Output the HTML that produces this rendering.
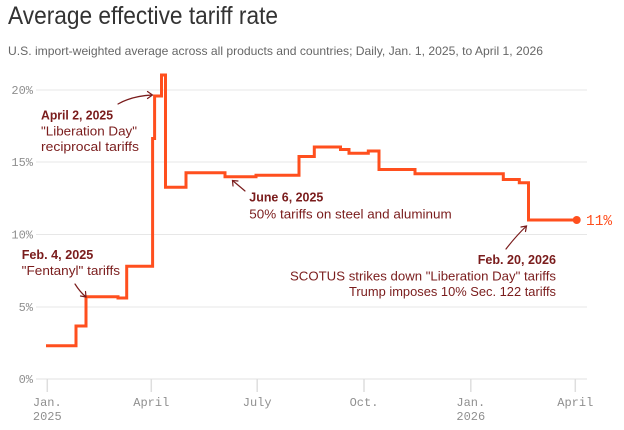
<!DOCTYPE html>
<html><head><meta charset="utf-8"><style>
html,body{margin:0;padding:0;background:#fff;}
svg{display:block;}
.ann{font-family:"Liberation Sans",sans-serif;font-size:13px;fill:#7a1c1c;}
.b{font-weight:bold;}
.tk{font-family:"Liberation Mono",monospace;font-size:12px;fill:#8f8f8f;}
</style></head><body>
<svg width="624" height="430" viewBox="0 0 624 430" xmlns="http://www.w3.org/2000/svg">
<text x="8" y="24" font-family="Liberation Sans, sans-serif" font-size="25" fill="#333" textLength="270" lengthAdjust="spacingAndGlyphs">Average effective tariff rate</text>
<text x="8" y="55" font-family="Liberation Sans, sans-serif" font-size="12" fill="#666" textLength="535" lengthAdjust="spacingAndGlyphs">U.S. import-weighted average across all products and countries; Daily, Jan. 1, 2025, to April 1, 2026</text>

<g stroke="#e7e7e7" stroke-width="1">
<line x1="36" y1="90" x2="587" y2="90"/>
<line x1="36" y1="162" x2="587" y2="162"/>
<line x1="36" y1="234.5" x2="587" y2="234.5"/>
<line x1="36" y1="307" x2="587" y2="307"/>
<line x1="36" y1="379" x2="587" y2="379" stroke="#e0e0e0"/>
</g>
<g class="tk" text-anchor="end">
<text x="33" y="94">20%</text>
<text x="33" y="166">15%</text>
<text x="33" y="238.5">10%</text>
<text x="33" y="311">5%</text>
<text x="33" y="383">0%</text>
</g>
<g stroke="#dedede" stroke-width="1.5">
<line x1="47.3" y1="379" x2="47.3" y2="392"/>
<line x1="151.3" y1="379" x2="151.3" y2="392"/>
<line x1="257.2" y1="379" x2="257.2" y2="392"/>
<line x1="364" y1="379" x2="364" y2="392"/>
<line x1="470.8" y1="379" x2="470.8" y2="392"/>
<line x1="575.3" y1="379" x2="575.3" y2="392"/>
</g>
<g class="tk" text-anchor="middle">
<text x="47.3" y="406">Jan.</text>
<text x="47.3" y="420">2025</text>
<text x="151.3" y="406">April</text>
<text x="257.2" y="406">July</text>
<text x="364" y="406">Oct.</text>
<text x="470.8" y="406">Jan.</text>
<text x="470.8" y="420">2026</text>
<text x="575.3" y="406">April</text>
</g>

<path d="M46,345.7 H76 V326 H86 V296.7 H118 V298 H126.7 V266.3 H152.6 V138.5 H154.6 V96 H161.5 V75 H165.5 V187.3 H186 V172.7 H225 V176.7 H256 V175.3 H299 V156.5 H314.3 V147 H340.5 V149.5 H349 V153.3 H368.3 V151 H379 V169.5 H415 V173.8 H503.3 V179.5 H519.3 V182.8 H528.5 V220 H576.7" fill="none" stroke="#ff4f1e" stroke-width="3"/>
<circle cx="576.7" cy="220" r="4" fill="#ff4f1e"/>
<text x="586" y="225" font-family="Liberation Mono, monospace" font-size="14.5" fill="#ff4f1e">11%</text>

<g fill="none" stroke="#7a1c1c" stroke-width="1.2" stroke-linecap="round">
<path d="M118,104 Q132,96 152,95"/>
<path d="M147.5,91.5 L152.5,95 L147.5,98.5"/>
<path d="M75,284 Q80,292 86,297"/>
<path d="M80.5,296 L86,297 L85.5,291.5"/>
<path d="M245,191 Q238,185 232.5,180.5"/>
<path d="M233,186 L232.5,180.5 L238,181"/>
<path d="M506,249 Q516,236 526.5,226"/>
<path d="M521,227 L526.5,226 L525.5,231.5"/>
</g>

<text class="ann b" x="41" y="119.5" textLength="72" lengthAdjust="spacingAndGlyphs">April 2, 2025</text>
<text class="ann" x="41" y="135.5" textLength="96" lengthAdjust="spacingAndGlyphs">"Liberation Day"</text>
<text class="ann" x="41" y="151" textLength="98" lengthAdjust="spacingAndGlyphs">reciprocal tariffs</text>

<text class="ann b" x="21.7" y="259" textLength="71.6" lengthAdjust="spacingAndGlyphs">Feb. 4, 2025</text>
<text class="ann" x="21.7" y="275" textLength="98.3" lengthAdjust="spacingAndGlyphs">"Fentanyl" tariffs</text>

<text class="ann b" x="249.3" y="201.7" textLength="74" lengthAdjust="spacingAndGlyphs">June 6, 2025</text>
<text class="ann" x="249.3" y="218.3" textLength="202.4" lengthAdjust="spacingAndGlyphs">50% tariffs on steel and aluminum</text>

<text class="ann b" x="477.7" y="264" textLength="78.3" lengthAdjust="spacingAndGlyphs">Feb. 20, 2026</text>
<text class="ann" x="290" y="280.7" textLength="266" lengthAdjust="spacingAndGlyphs">SCOTUS strikes down "Liberation Day" tariffs</text>
<text class="ann" x="349" y="296" textLength="207" lengthAdjust="spacingAndGlyphs">Trump imposes 10% Sec. 122 tariffs</text>
</svg>
</body></html>
